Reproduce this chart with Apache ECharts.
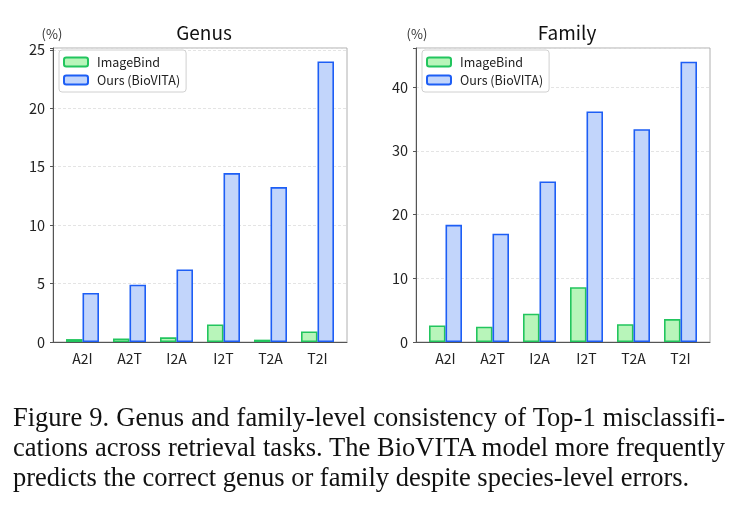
<!DOCTYPE html>
<html>
<head>
<meta charset="utf-8">
<script src="https://cdn.jsdelivr.net/npm/echarts@6/dist/echarts.min.js"></script>
<style>
html,body{margin:0;padding:0;background:#fff;}
#main{width:740px;height:513px;position:absolute;left:0;top:0;}
.cap{position:absolute;left:13px;width:712px;font-family:"Liberation Serif","Times New Roman",serif;font-size:26.5px;color:#111;line-height:30px;white-space:nowrap;}
.just{text-align:justify;text-align-last:justify;}
</style>
</head>
<body>
<div id="main"></div>
<div class="cap just" style="top:402px;">Figure 9. Genus and family-level consistency of Top-1 misclassifi-</div>
<div class="cap just" style="top:432px;">cations across retrieval tasks. The BioVITA model more frequently</div>
<div class="cap" style="top:462px;">predicts the correct genus or family despite species-level errors.</div>
<script>
// 数据
var tasks=['A2I','A2T','I2A','I2T','T2A','T2I'];
var genusImageBind=[0.25,0.3,0.4,1.5,0.2,0.9];
var genusOurs=[4.2,4.9,6.2,14.45,13.25,24.0];
var familyImageBind=[2.6,2.4,4.45,8.6,2.8,3.6];
var familyOurs=[18.4,17.0,25.2,36.2,33.4,44.0];
var genusTicks=[0,5,10,15,20,25];
var familyTicks=[0,10,20,30,40];

var font='"Noto Sans CJK JP","Noto Sans",sans-serif';
var green={color:'#b8f5ba',borderColor:'#22c55e',borderWidth:1.6};
var blue={color:'#c2d5fb',borderColor:'#1d5ef5',borderWidth:1.6};

// 构建一个子图
function panel(idx,left,title,titleX,pctX,max,step,ticks,d1,d2){
	var g=idx*2;
	var grids=[
		{left:left,top:48,width:294,height:294,show:true,borderColor:'#b0b0b0',borderWidth:1,backgroundColor:'transparent'},
		{left:left+6,top:48,width:282,height:294}
	];
	var xAxes=[
		{gridIndex:g,type:'value',min:0,max:1,axisLabel:{show:false},axisTick:{show:false},splitLine:{show:false},
			axisLine:{show:true,lineStyle:{color:'#555',width:1}}},
		{gridIndex:g+1,type:'category',data:tasks,axisLine:{show:false},axisTick:{show:false},
			axisLabel:{color:'#222',fontSize:14,fontFamily:font,margin:10}}
	];
	var yAxes=[
		{gridIndex:g,type:'value',min:0,max:max,interval:step,
			axisLine:{show:true,lineStyle:{color:'#555',width:1}},
			axisTick:{show:true,length:3,lineStyle:{color:'#555'}},
			axisLabel:{color:'#222',fontSize:14.5,fontFamily:font,margin:8,formatter:function(v){
				return ticks.indexOf(v)>=0?String(v):'';
			}},
			splitLine:{show:true,lineStyle:{color:'#ddd',type:[3,2],width:0.8}}},
		{gridIndex:g+1,type:'value',min:0,max:max,show:false,splitLine:{show:false}}
	];
	var series=[
		{name:'ImageBind',type:'bar',xAxisIndex:g+1,yAxisIndex:g+1,data:d1,barWidth:16.5,barGap:'0%',itemStyle:green,z:3},
		{name:'Ours (BioVITA)',type:'bar',xAxisIndex:g+1,yAxisIndex:g+1,data:d2,barWidth:16.5,barGap:'0%',itemStyle:blue,z:3}
	];
	var titles=[
		{text:title,left:titleX,top:18,textAlign:'center',textStyle:{fontSize:19,fontWeight:'normal',color:'#111',fontFamily:font}},
		{text:'(%)',left:pctX,top:23,textAlign:'center',textStyle:{fontSize:13,fontWeight:'normal',color:'#333',fontFamily:font}}
	];
	var legend={orient:'vertical',left:left+6,top:50,data:['ImageBind','Ours (BioVITA)'],
		itemWidth:24,itemHeight:9,itemGap:4,padding:[5,6,5,4],
		backgroundColor:'#fff',borderColor:'#d0d0d0',borderWidth:1,borderRadius:3,
		textStyle:{fontSize:12.5,color:'#222',fontFamily:font,lineHeight:14,padding:[0,0,0,4]},
		selectedMode:false};
	return {grids:grids,xAxes:xAxes,yAxes:yAxes,series:series,titles:titles,legend:legend};
}

var p1=panel(0,53,'Genus',199,47,25.15,5,genusTicks,genusImageBind,genusOurs);
var p2=panel(1,416,'Family',562,412,46.15,10,familyTicks,familyImageBind,familyOurs);

var myChart=echarts.init(document.getElementById('main'));
myChart.setOption({
	animation:false,
	title:p1.titles.concat(p2.titles),
	legend:[p1.legend,p2.legend],
	grid:p1.grids.concat(p2.grids),
	xAxis:p1.xAxes.concat(p2.xAxes),
	yAxis:p1.yAxes.concat(p2.yAxes),
	series:p1.series.concat(p2.series)
});
</script>
</body>
</html>
